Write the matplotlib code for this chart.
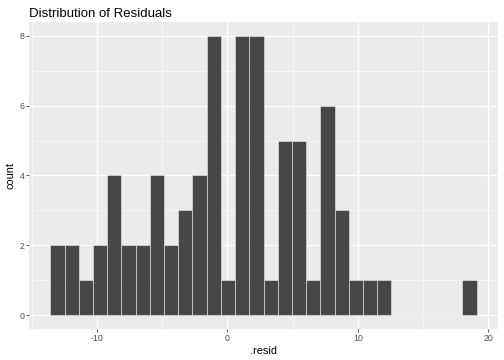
import numpy as np
import matplotlib
matplotlib.use('Agg')
from matplotlib import pyplot as plt

# histogram of residuals, 30 bins (ggplot default)
resid_min = -13.03
resid_max = 18.55
counts = [2, 2, 1, 2, 4, 2, 2, 4, 2, 3, 4, 8, 1, 8, 8, 1, 5, 5, 1, 6, 3, 1, 1, 1,
          0, 0, 0, 0, 0, 1]
x_breaks = [-10, 0, 10, 20]
y_breaks = [0, 2, 4, 6, 8]

plt.rcParams['font.family'] = ['Liberation Sans', 'DejaVu Sans']

nbins = len(counts)
width = (resid_max - resid_min) / (nbins - 1)
centers = resid_min + width * np.arange(nbins)

fig = plt.figure(figsize=(7, 5), dpi=72)
ax = fig.add_axes([29 / 504, 1 - 329 / 360, 469 / 504, 307 / 360])
ax.set_facecolor('#EBEBEB')

lo, hi = centers[0] - width / 2, centers[-1] + width / 2
pad = (hi - lo) * 0.05
ax.set_xlim(lo - pad, hi + pad)
ax.set_ylim(-0.4, 8.4)

ax.set_xticks(x_breaks)
ax.set_xticks([-15, -5, 5, 15], minor=True)
ax.set_yticks(y_breaks)
ax.set_yticks([1, 3, 5, 7], minor=True)
ax.grid(which='major', color='white', lw=1.1)
ax.grid(which='minor', color='white', lw=0.55)
ax.set_axisbelow(True)

ax.bar(centers, counts, width=width, color='#474747', edgecolor='#E6E6E6', lw=0.6)

for s in ax.spines.values():
    s.set_visible(False)
ax.tick_params(which='major', length=2.7, color='#333333', labelsize=8.8,
               labelcolor='#4D4D4D', width=0.8, pad=2)
ax.tick_params(which='minor', length=0)
ax.set_xticklabels([str(b) for b in x_breaks])

ax.set_xlabel('.resid', fontsize=11, labelpad=3)
ax.set_ylabel('count', fontsize=11, labelpad=4)
fig.text(29 / 504, 1 - 17 / 360, 'Distribution of Residuals', fontsize=13.2)

fig.savefig('out.png', dpi=72)
